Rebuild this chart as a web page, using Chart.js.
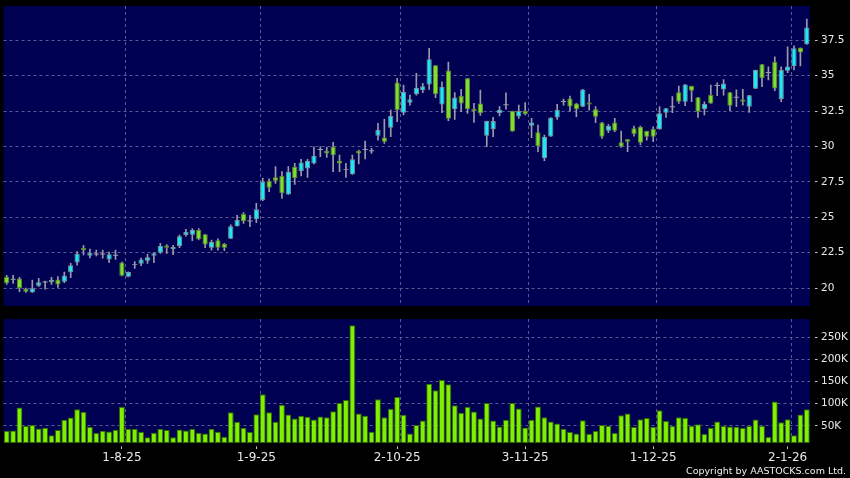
<!DOCTYPE html>
<html>
<head>
<meta charset="utf-8">
<script src="https://cdn.jsdelivr.net/npm/chart.js@4.4.1/dist/chart.umd.min.js"></script>
<style>
  html, body { margin: 0; padding: 0; background: #000; }
  body { width: 850px; height: 478px; position: relative; overflow: hidden; }
  canvas { position: absolute; left: 0; }
  #price { top: 0; }
  #vol { top: 310px; }
  #copy { position: absolute; right: 4px; top: 465px; color: #f0f0f0;
          font: 9.5px/11px "DejaVu Sans", sans-serif; white-space: nowrap; }
</style>
</head>
<body>
<canvas id="price" width="850" height="310"></canvas>
<canvas id="vol" width="850" height="168"></canvas>
<div id="copy">Copyright by AASTOCKS.com Ltd.</div>
<script>
// ---- data ----
const opens = [20.80,20.56,20.68,19.95,19.69,20.16,20.42,20.40,20.61,20.45,
  21.11,21.81,22.82,22.28,22.40,22.40,22.02,22.31,21.81,20.80,
  21.67,21.72,21.93,22.28,22.50,23.01,22.73,22.97,23.74,23.77,
  24.10,23.79,22.85,23.37,23.11,23.48,24.36,25.23,24.73,24.85,
  26.21,27.58,27.82,27.91,26.61,28.57,28.26,28.45,28.80,29.79,
  29.70,29.98,28.99,28.38,28.03,29.67,29.79,29.70,30.76,30.64,
  31.32,34.52,32.38,33.09,33.68,33.98,34.38,35.73,32.97,35.37,
  32.62,33.56,34.81,32.64,33.04,30.76,31.21,32.34,32.95,32.50,
  32.12,32.50,31.46,31.00,29.16,30.71,32.05,33.18,33.39,33.04,
  32.81,33.11,32.62,31.70,31.11,31.70,30.29,30.50,31.28,31.39,
  31.09,31.23,31.21,32.38,32.81,33.82,33.16,34.27,33.47,32.64,
  33.63,34.31,34.03,33.82,33.47,33.32,32.81,34.08,35.80,35.23,
  35.98,33.35,35.35,35.68,36.97,37.21];
const highs = [20.89,20.89,20.75,20.00,20.56,20.68,20.49,20.75,20.80,21.13,
  21.74,22.57,23.01,22.75,22.68,22.68,22.54,22.68,21.84,21.15,
  21.86,22.12,22.38,22.50,23.15,23.06,23.01,23.74,24.14,24.19,
  24.19,23.79,23.39,23.48,23.15,24.47,25.13,25.32,25.13,25.98,
  27.77,27.72,28.57,28.22,28.57,28.80,29.09,29.09,29.98,29.98,
  29.93,30.29,29.39,28.80,29.39,29.75,30.38,29.86,31.63,31.91,
  32.57,34.81,34.34,33.63,35.16,34.45,36.93,35.73,34.57,35.96,
  33.80,34.03,34.81,33.04,33.98,31.79,32.05,32.81,33.79,32.50,
  32.92,33.09,31.98,31.51,30.81,32.03,32.97,33.35,33.56,33.04,
  34.03,33.68,32.81,31.70,31.56,31.98,31.09,30.50,31.44,31.44,
  31.09,31.39,32.81,32.69,33.52,34.27,34.38,34.27,33.47,33.16,
  34.33,34.50,34.73,33.82,34.00,34.03,33.61,35.40,35.80,35.63,
  36.33,35.63,37.04,37.11,36.97,39.00];
const lows = [20.26,20.33,19.74,19.69,19.69,20.09,19.91,20.26,20.05,20.38,
  20.73,21.62,22.33,22.12,22.26,22.10,21.79,22.02,20.85,20.78,
  21.39,21.58,21.74,21.79,22.45,22.45,22.35,22.85,23.67,23.34,
  23.39,22.85,22.68,22.68,22.64,23.48,24.36,24.57,24.33,24.61,
  26.17,26.80,27.39,26.33,26.61,27.32,27.91,27.82,28.76,29.27,
  29.23,28.22,28.22,27.82,28.03,28.76,29.11,29.51,30.45,30.21,
  30.69,31.75,32.22,32.92,33.63,33.79,34.03,33.44,32.38,31.82,
  31.91,32.45,32.34,31.70,32.19,29.98,30.69,32.15,32.64,31.06,
  31.98,32.22,30.62,29.63,28.99,30.71,31.91,32.92,32.50,32.10,
  32.81,32.57,31.68,30.57,30.97,31.04,29.93,29.63,30.73,30.10,
  30.45,30.33,31.21,32.05,32.38,33.04,32.88,33.16,32.05,32.22,
  33.04,33.58,33.63,32.52,32.81,32.92,32.41,34.08,34.22,34.69,
  33.94,33.16,35.21,35.40,35.68,37.21];
const closes = [20.33,20.68,20.00,19.74,19.98,20.40,20.42,20.56,20.24,20.89,
  21.60,22.42,22.66,22.50,22.40,22.40,22.38,22.31,20.87,21.13,
  21.67,22.02,22.17,22.45,22.99,22.85,22.90,23.65,23.95,24.10,
  23.44,23.08,23.25,22.85,22.85,24.36,24.80,24.71,24.73,25.56,
  27.53,27.09,27.58,26.69,28.22,27.75,28.87,28.99,29.35,29.79,
  29.51,29.37,28.80,28.38,29.09,29.51,29.79,29.70,31.16,30.33,
  32.15,32.57,33.87,33.33,34.15,34.26,36.15,33.68,34.22,31.96,
  33.46,33.04,32.62,32.48,32.34,31.79,31.79,32.57,32.95,31.06,
  32.50,32.29,31.70,30.03,30.69,32.03,32.59,33.18,32.83,32.62,
  34.03,32.97,32.10,30.69,31.44,31.11,29.98,30.33,30.88,30.26,
  30.69,30.69,32.34,32.69,32.81,33.16,34.38,33.94,32.45,32.99,
  33.04,34.31,34.45,32.88,33.47,33.16,33.61,35.40,34.81,35.23,
  34.10,35.40,35.65,36.93,36.64,38.41];
const volumes = [38800,39500,91400,49300,51600,44000,45500,28300,40300,63600,
  68800,87600,81600,47800,33500,38800,37300,41000,92900,43300,
  43300,35800,23800,34300,43300,40300,23800,41800,39500,43300,
  34300,32800,43300,36500,25300,80900,59100,45500,35800,76400,
  121500,80900,59100,97400,75600,66600,72600,70300,64300,71100,
  69600,83100,101900,108700,277800,77900,72600,36500,110200,69600,
  88400,115500,74900,32800,51600,62100,145500,130500,153800,144000,
  96700,79400,92900,82400,66600,101900,62100,48600,63600,101900,
  89100,46300,63600,93700,69600,59800,55200,43300,35800,32800,
  62800,32000,38000,51600,50000,33500,74100,77900,47100,65100,
  67400,47800,85400,60600,49300,69600,68100,50000,53700,31300,
  45500,59800,49300,48600,47800,44800,49300,64300,50000,24500,
  104900,58300,65100,28300,75600,87600];
const categories = opens.map((_, i) => i);
const xTickIndex  = [18, 39, 61, 81, 101, 122];
const xTickLabels = ['1-8-25', '1-9-25', '2-10-25', '3-11-25', '1-12-25', '2-1-26'];
const priceTicks  = [20, 22.5, 25, 27.5, 30, 32.5, 35, 37.5];
const priceTickLabels = ['20', '22.5', '25', '27.5', '30', '32.5', '35', '37.5'];
const volTicks  = [50000, 100000, 150000, 200000, 250000];
const volTickLabels = ['50K', '100K', '150K', '200K', '250K'];
const priceMin = 18.73, priceMax = 39.92;
const volMin = 11000, volMax = 292000;

// ---- styles ----
const NAVY = '#000052';
const GRID = '#5a5a96';
const TEXT = '#e8e8e8';
const CYAN = '#1ee8f5', CYAN_B = '#7f909c';
const GREEN = '#7ee02a', GREEN_B = '#5f8a30';
const GRAY = '#9a9aaa';
const VOL = '#80f000', VOL_B = '#2f6a00';
const FONT = 'DejaVu Sans';
Chart.defaults.font.family = FONT;

const bgPlugin = {
  id: 'bg',
  beforeDraw(chart) {
    const a = chart.chartArea, c = chart.ctx;
    c.save(); c.fillStyle = NAVY;
    c.fillRect(a.left, a.top, a.right - a.left, a.bottom - a.top);
    c.restore();
  }
};
const vGridPlugin = {
  id: 'vgrid',
  beforeDatasetsDraw(chart) {
    const a = chart.chartArea, c = chart.ctx, xs = chart.scales.x;
    c.save(); c.strokeStyle = GRID; c.lineWidth = 1; c.setLineDash([3, 3]);
    xTickIndex.forEach(i => {
      const x = Math.round(xs.getPixelForValue(i + 0.5)) + 0.5;
      c.beginPath(); c.moveTo(x, a.top); c.lineTo(x, a.bottom); c.stroke();
    });
    c.restore();
  }
};

function yAxis(ticks, labels, min, max, fontSize) {
  return {
    position: 'right', min, max,
    afterFit(s) { s.width = 40; s.paddingTop = 0; s.paddingBottom = 0; },
    afterBuildTicks(s) { s.ticks = ticks.map(v => ({ value: v })); },
    ticks: { color: TEXT, font: { size: fontSize }, padding: 3,
             callback: (v, i) => labels[i] },
    grid: { color: GRID, lineWidth: 1, drawTicks: true, tickLength: 8,
            tickColor: '#c8c8c8', tickBorderDash: [0, 5, 2.5, 30] },
    border: { display: false, dash: [3, 3] }
  };
}

// ---- price chart ----
const bodyData = opens.map((o, i) => {
  const c = closes[i];
  return o === c ? [o - 0.035, o + 0.035] : [o, c];
});
const bodyFill = opens.map((o, i) => closes[i] > o ? CYAN : closes[i] < o ? GREEN : GRAY);
const bodyBorder = opens.map((o, i) => closes[i] > o ? CYAN_B : closes[i] < o ? GREEN_B : GRAY);
const bodyBW = opens.map((o, i) => closes[i] === o ? 0 : 1);

new Chart(document.getElementById('price'), {
  type: 'bar',
  data: {
    labels: categories,
    datasets: [
      { data: bodyData, backgroundColor: bodyFill, borderColor: bodyBorder,
        borderWidth: bodyBW, borderSkipped: false, barPercentage: 0.82,
        categoryPercentage: 1, grouped: false, order: 0 },
      { data: lows.map((l, i) => [l, highs[i]]), backgroundColor: GRAY,
        borderWidth: 0, barThickness: 1, grouped: false, order: 1 }
    ]
  },
  options: {
    responsive: false, animation: false, devicePixelRatio: 1,
    layout: { padding: { left: 3.5, top: 6, right: 0, bottom: 4 } },
    plugins: { legend: { display: false }, tooltip: { enabled: false } },
    scales: {
      x: { display: false, offset: true },
      y: yAxis(priceTicks, priceTickLabels, priceMin, priceMax, 10.5)
    }
  },
  plugins: [bgPlugin, vGridPlugin]
});

// ---- volume chart ----
new Chart(document.getElementById('vol'), {
  type: 'bar',
  data: {
    labels: categories,
    datasets: [
      { data: volumes, backgroundColor: VOL, borderColor: VOL_B, borderWidth: 1,
        borderSkipped: false, barPercentage: 0.92, categoryPercentage: 1, base: volMin }
    ]
  },
  options: {
    responsive: false, animation: false, devicePixelRatio: 1,
    layout: { padding: { left: 3.5, top: 9, right: 0, bottom: 0 } },
    plugins: { legend: { display: false }, tooltip: { enabled: false } },
    scales: {
      x: {
        offset: true,
        afterFit(s) { s.height = 35; s.paddingLeft = 0; s.paddingRight = 0; },
        afterBuildTicks(s) { s.ticks = xTickIndex.map(v => ({ value: v })); },
        ticks: { autoSkip: false, maxRotation: 0, color: TEXT, font: { size: 12 }, padding: 2,
                 callback: (v, i) => xTickLabels[i] },
        grid: { offset: false, drawOnChartArea: false, drawTicks: true, tickLength: 6,
                tickColor: '#c8c8c8', tickBorderDash: [0, 3.4, 2.6, 30] },
        border: { display: false }
      },
      y: yAxis(volTicks, volTickLabels, volMin, volMax, 10.5)
    }
  },
  plugins: [bgPlugin, vGridPlugin]
});
</script>
</body>
</html>
